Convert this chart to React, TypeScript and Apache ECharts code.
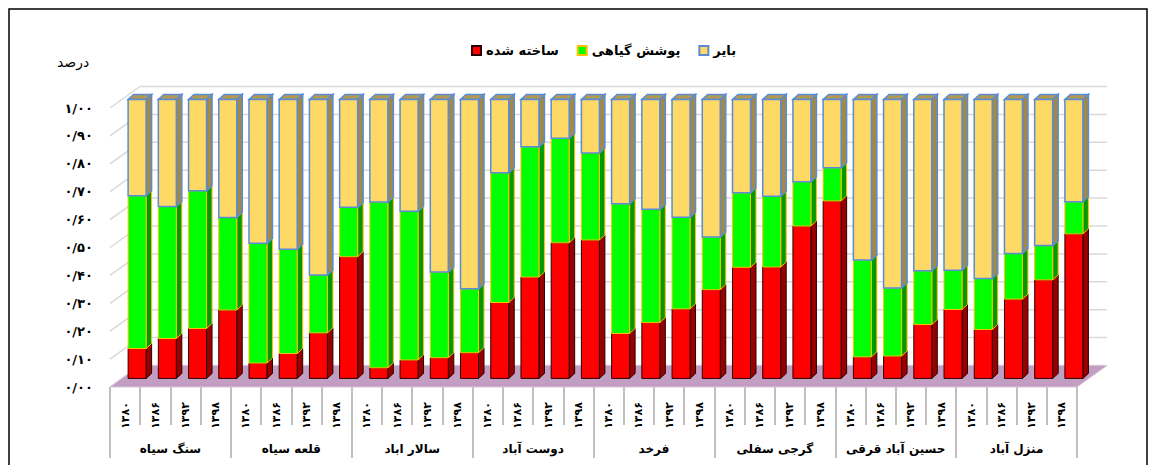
import React, { useEffect, useRef } from "react";
import * as echarts from "echarts";

const groups = ["سنگ سیاه", "قلعه سیاه", "سالار اباد", "دوست آباد", "فرخد", "گرجی سفلی", "حسین آباد قرقی", "منزل آباد"];
const years = ["۱۳۸۰", "۱۳۸۶", "۱۳۹۲", "۱۳۹۸"];
const yTickLabels = ["۰/۰۰", "۰/۱۰", "۰/۲۰", "۰/۳۰", "۰/۴۰", "۰/۵۰", "۰/۶۰", "۰/۷۰", "۰/۸۰", "۰/۹۰", "۱/۰۰"];
const seriesNames = ["ساخته شده", "پوشش گیاهی", "بایر"];

// built-up share per bar (group x year)
const built = [
  0.107, 0.143, 0.179, 0.245,
  0.055, 0.089, 0.163, 0.436,
  0.038, 0.066, 0.074, 0.092,
  0.272, 0.363, 0.486, 0.496,
  0.161, 0.200, 0.249, 0.318,
  0.398, 0.399, 0.546, 0.636,
  0.077, 0.080, 0.193, 0.247,
  0.175, 0.284, 0.353, 0.518,
];
// vegetation share
const vegetation = [
  0.548, 0.473, 0.494, 0.332,
  0.429, 0.374, 0.208, 0.177,
  0.594, 0.533, 0.307, 0.229,
  0.465, 0.467, 0.375, 0.312,
  0.465, 0.406, 0.329, 0.189,
  0.267, 0.254, 0.159, 0.119,
  0.347, 0.244, 0.193, 0.141,
  0.183, 0.164, 0.123, 0.115,
];
// bare land share
const bare = [
  0.345, 0.384, 0.327, 0.423,
  0.516, 0.537, 0.629, 0.387,
  0.368, 0.401, 0.619, 0.679,
  0.263, 0.170, 0.139, 0.192,
  0.374, 0.394, 0.422, 0.493,
  0.335, 0.347, 0.295, 0.245,
  0.576, 0.676, 0.614, 0.612,
  0.642, 0.552, 0.524, 0.367,
];

const FONT = "'DejaVu Sans', 'Noto Sans', sans-serif";
const DX = 30;
const DY = -21.5;
const BAR_DEPTH = 0.4;
const BAR_W = 18;
const SIDE_X = 5.5;
const SIDE_Y = -5;

const faceStyles = [
  { front: "#ff0000", side: "#990000", top: "#c00000", border: "#2a0000", bw: 1 },
  { front: "#00ff00", side: "#009a00", top: "#00c000", border: "#ffc000", bw: 1 },
  { front: "#ffd966", side: "#a08a46", top: "#b39a52", border: "#5b8bd6", bw: 1.5 },
];

export default function App() {
  const ref = useRef<HTMLDivElement>(null);
  useEffect(() => {
    if (!ref.current) return;
    const chart = echarts.init(ref.current, undefined, { renderer: "svg" });

    const cats: string[] = [];
    groups.forEach((g) => years.forEach((y) => cats.push(g + "|" + y)));

    const layers = [built, vegetation, bare];
    const stackData = layers.map((arr, li) =>
      arr.map((v, i) => {
        let s = 0;
        for (let k = 0; k < li; k++) s += layers[k][i];
        return [i, s, s + v];
      })
    );

    const makeBarRender = (li: number) => (params: any, api: any) => {
      const st = faceStyles[li];
      const i = api.value(0);
      const s = api.value(1);
      const e = api.value(2);
      const pS = api.coord([i, s]);
      const pE = api.coord([i, e]);
      const ox = BAR_DEPTH * DX;
      const oy = BAR_DEPTH * DY;
      const x0 = pS[0] - BAR_W / 2 + ox;
      const x1 = x0 + BAR_W;
      const yb = pS[1] + oy;
      const yt = pE[1] + oy;
      return {
        type: "group",
        children: [
          {
            type: "polygon",
            shape: { points: [[x1, yb], [x1 + SIDE_X, yb + SIDE_Y], [x1 + SIDE_X, yt + SIDE_Y], [x1, yt]] },
            style: { fill: st.side, stroke: st.border, lineWidth: st.bw },
          },
          {
            type: "polygon",
            shape: { points: [[x0, yt], [x1, yt], [x1 + SIDE_X, yt + SIDE_Y], [x0 + SIDE_X, yt + SIDE_Y]] },
            style: { fill: st.top, stroke: st.border, lineWidth: st.bw },
          },
          {
            type: "rect",
            shape: { x: x0, y: yt, width: BAR_W, height: yb - yt },
            style: { fill: st.front, stroke: st.border, lineWidth: st.bw },
          },
        ],
      };
    };

    const wallRender = (params: any, api: any) => {
      const cs = params.coordSys;
      const y = api.coord([0, api.value(1)])[1];
      const xL = cs.x;
      const xR = cs.x + cs.width;
      return {
        type: "group",
        children: [
          { type: "line", shape: { x1: xL, y1: y, x2: xL + DX, y2: y + DY }, style: { stroke: "#d9d9d9", lineWidth: 1.5 } },
          { type: "line", shape: { x1: xL + DX, y1: y + DY, x2: xR + DX, y2: y + DY }, style: { stroke: "#d9d9d9", lineWidth: 1.5 } },
        ],
      };
    };

    const floorRender = (params: any, api: any) => {
      const cs = params.coordSys;
      const y = api.coord([0, 0])[1];
      const xL = cs.x;
      const xR = cs.x + cs.width;
      return {
        type: "polygon",
        shape: { points: [[xL, y], [xR, y], [xR + DX, y + DY], [xL + DX, y + DY]] },
        style: { fill: "#c29fc2", stroke: "#d9c3d9", lineWidth: 1 },
      };
    };

    chart.setOption({
      animation: false,
      title: {
        text: "درصد",
        left: 52,
        top: 50,
        textStyle: { fontFamily: FONT, fontSize: 14, fontWeight: "normal", color: "#000" },
      },
      legend: {
        data: seriesNames,
        left: 466,
        top: 39,
        icon: "rect",
        itemWidth: 9,
        itemHeight: 9,
        itemGap: 18,
        textStyle: { fontFamily: FONT, fontSize: 13, fontWeight: "bold", color: "#000" },
      },
      grid: { left: 110, right: 80, top: 108, bottom: 78, outerBoundsMode: "none" },
      xAxis: [
        {
          type: "category",
          data: cats,
          position: "bottom",
          boundaryGap: true,
          axisLine: { show: false },
          axisTick: { show: true, length: 38, lineStyle: { color: "#c0c0c0", width: 2 } },
          axisLabel: {
            interval: 0,
            rotate: 90,
            margin: 15,
            formatter: (v: string) => v.split("|")[1],
            fontFamily: FONT,
            fontSize: 11,
            fontWeight: "bold",
            color: "#000",
          },
        },
        {
          type: "category",
          data: groups,
          position: "bottom",
          boundaryGap: true,
          axisLine: { show: false },
          axisTick: { show: true, length: 71, lineStyle: { color: "#c0c0c0", width: 2 } },
          axisLabel: {
            interval: 0,
            margin: 56,
            fontFamily: FONT,
            fontSize: 12,
            fontWeight: "bold",
            color: "#000",
          },
        },
      ],
      yAxis: {
        type: "value",
        min: 0,
        max: 1,
        interval: 0.1,
        axisLine: { show: false },
        axisTick: { show: false },
        splitLine: { show: false },
        axisLabel: {
          margin: 17,
          formatter: (v: number) => yTickLabels[Math.round(v * 10)],
          fontFamily: FONT,
          fontSize: 13,
          fontWeight: "bold",
          color: "#000",
        },
      },
      graphic: [
        {
          type: "rect",
          shape: { x: 9, y: 9, width: 1138, height: 470 },
          style: { fill: "none", stroke: "#000", lineWidth: 1.5 },
          silent: true,
        },
      ],
      series: [
        {
          type: "custom",
          name: "wall",
          xAxisIndex: 0,
          clip: false,
          silent: true,
          z: 1,
          data: yTickLabels.map((_, k) => [0, k / 10]),
          renderItem: wallRender,
        },
        {
          type: "custom",
          name: "floor",
          xAxisIndex: 0,
          clip: false,
          silent: true,
          z: 2,
          data: [[0, 0]],
          renderItem: floorRender,
        },
        ...stackData.map((d, li) => ({
          type: "custom",
          name: seriesNames[li],
          xAxisIndex: 0,
          clip: false,
          z: 3 + li,
          itemStyle: { color: faceStyles[li].front, borderColor: faceStyles[li].border, borderWidth: faceStyles[li].bw },
          data: d,
          renderItem: makeBarRender(li),
        })),
      ],
    });
    return () => chart.dispose();
  }, []);
  return <div ref={ref} style={{ position: "absolute", left: 0, top: 0, width: 1157, height: 465 }} />;
}
